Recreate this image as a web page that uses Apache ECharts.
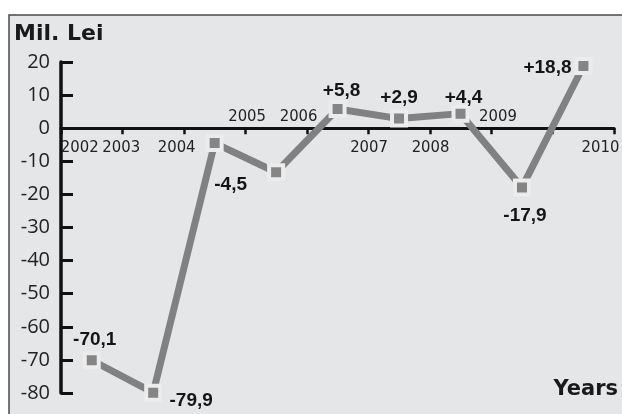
<!DOCTYPE html>
<html><head><meta charset="utf-8">
<script src="https://cdn.jsdelivr.net/npm/echarts@6/dist/echarts.min.js"></script>
<style>html,body{margin:0;padding:0;background:#fff}#c{width:622px;height:414px}</style>
</head><body><div id="c"></div>
<script>
// ---- data ----
const years = ['2002', '2003', '2004', '2005', '2006', '2007', '2008', '2009', '2010'];
const values = [-70.1, -79.9, -4.5, -13.3, 5.8, 2.9, 4.4, -17.9, 18.8];
const valueLabelShown = [true, true, true, false, true, true, true, true, true];
const yearLabelAbove = [false, false, false, true, true, false, false, true, false];
const yMin = -80, yMax = 20, yStep = 10;

// ---- layout (not data) ----
const gridTop = 62, gridBottom = 21, chartH = 414;
const plotH = chartH - gridTop - gridBottom;
const zeroFromTop = plotH * (yMax - 0) / (yMax - yMin);
const yearShift = [-12, -32, -38, -29, -39, -30, -30, -24, 17];
const valueLabelOffset = [[3, -20], [38, 8], [16, 42], [0, 0], [4, -18], [0, -21], [3, -16], [3, 28], [-36, 2]];

const yearFont = { fontFamily: "'Liberation Sans Narrow','DejaVu Sans Condensed','Liberation Sans',sans-serif", fontSize: 16.5, color: '#222' };
const rich = {};
yearShift.forEach((s, i) => {
  rich['s' + i] = Object.assign({}, yearFont, { padding: s < 0 ? [0, -2 * s, 0, 0] : [0, 0, 0, 2 * s] });
});

function fmt(v) {
  const t = Math.abs(v).toFixed(1).replace('.', ',');
  return (v > 0 ? '+' : '-') + t;
}

const chart = echarts.init(document.getElementById('c'), null, { renderer: 'canvas' });
chart.setOption({
  animation: false,
  backgroundColor: '#ffffff',
  graphic: [{
    type: 'rect', z: -10, silent: true,
    shape: { x: 9, y: 15, width: 640, height: 420 },
    style: { fill: '#e5e6e8', stroke: '#4a4a4a', lineWidth: 1.5 }
  }],
  title: [
    { text: 'Mil. Lei', left: 14, top: 23, padding: 0,
      textStyle: { fontFamily: 'DejaVu Sans', fontWeight: 'bold', fontSize: 22, color: '#1a1a1a' } },
    { text: 'Years', right: 4, top: 379, padding: 0,
      textStyle: { fontFamily: 'DejaVu Sans', fontWeight: 'bold', fontSize: 21, color: '#1a1a1a' } }
  ],
  grid: { left: 61, right: 2, top: gridTop, bottom: gridBottom, containLabel: false },
  xAxis: [{
    type: 'category', data: years, boundaryGap: true, position: 'bottom',
    offset: -(plotH - zeroFromTop),
    axisLine: { onZero: false, lineStyle: { color: '#111', width: 3 } },
    axisTick: { show: true, length: 6, lineStyle: { color: '#111', width: 2.5 } },
    axisLabel: { interval: 0, margin: 11, rich: rich,
      formatter: (v, i) => yearLabelAbove[i] ? '' : '{s' + i + '|' + v + '}' },
    splitLine: { show: false }
  }, {
    type: 'category', data: years, boundaryGap: true, position: 'top',
    offset: -zeroFromTop,
    axisLine: { show: false, onZero: false },
    axisTick: { show: false },
    axisLabel: { interval: 0, margin: 3, rich: rich,
      formatter: (v, i) => yearLabelAbove[i] ? '{s' + i + '|' + v + '}' : '' },
    splitLine: { show: false }
  }],
  yAxis: {
    type: 'value', min: yMin, max: yMax, interval: yStep,
    axisLine: { show: true, onZero: false, lineStyle: { color: '#111', width: 3.5 } },
    axisTick: { show: true, inside: true, length: 12, lineStyle: { color: '#111', width: 3 } },
    axisLabel: { margin: 11, fontFamily: "'Open Sans','Noto Sans',sans-serif", fontSize: 20, color: '#222' },
    splitLine: { show: false }
  },
  series: [{
    type: 'line', xAxisIndex: 0, yAxisIndex: 0,
    data: values.map((v, i) => ({ value: v, label: { show: valueLabelShown[i], offset: valueLabelOffset[i] } })),
    symbol: 'rect', symbolSize: 14,
    lineStyle: { color: '#818181', width: 7 },
    itemStyle: { color: '#858585', borderColor: '#ececec', borderWidth: 4 },
    label: { show: true, position: 'inside', formatter: p => fmt(p.value),
      fontFamily: "'Liberation Sans',Arial,sans-serif", fontWeight: 'bold', fontSize: 19, color: '#151515' },
    emphasis: { disabled: true },
    z: 5
  }]
});
</script>
</body></html>
